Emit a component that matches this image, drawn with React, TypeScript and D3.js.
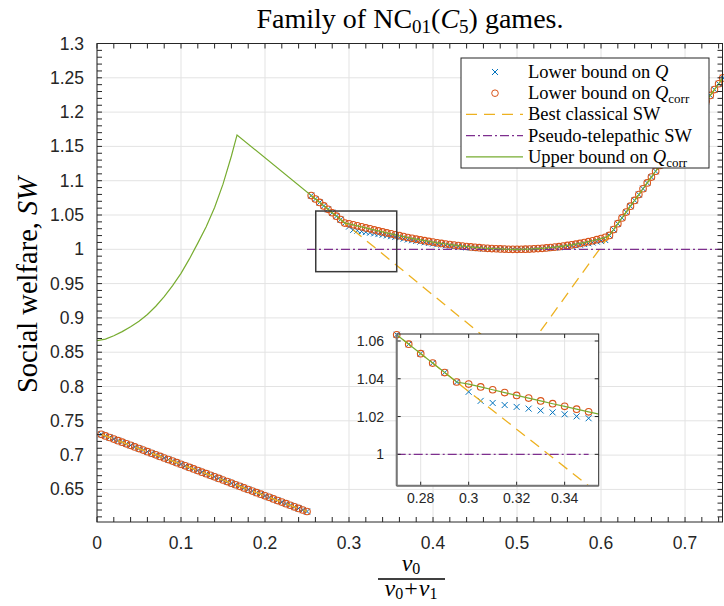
import React from "react";
import * as d3 from "d3";

// sampling of v0/(v0+v1)
const leftStart = 0.005;
const rightStart = 0.255;
const step = 0.005;

// lower bounds (Q and Q_corr equal) for v0/(v0+v1) = 0.005 .. 0.25
const leftLower = [
  0.7303, 0.728, 0.7257, 0.7234, 0.7211, 0.7188, 0.7165, 0.7142, 0.7119, 0.7096,
  0.7073, 0.705, 0.7027, 0.7004, 0.6981, 0.6958, 0.6935, 0.6913, 0.689, 0.6867,
  0.6844, 0.6821, 0.6798, 0.6775, 0.6752, 0.6729, 0.6706, 0.6683, 0.666, 0.6637,
  0.6614, 0.6591, 0.6568, 0.6545, 0.6522, 0.6499, 0.6476, 0.6453, 0.643, 0.6407,
  0.6384, 0.6361, 0.6338, 0.6315, 0.6292, 0.6269, 0.6246, 0.6223, 0.62, 0.6178,
];

// lower bound on Q_corr for v0/(v0+v1) = 0.255 .. 0.745
const rightQcorr = [
  1.0783, 1.0733, 1.0683, 1.0633, 1.0583, 1.0533, 1.0483, 1.0433, 1.0383, 1.0372,
  1.0357, 1.0342, 1.0327, 1.0312, 1.0298, 1.0283, 1.0268, 1.0254, 1.0239, 1.0225,
  1.0211, 1.0198, 1.0185, 1.0172, 1.016, 1.0148, 1.0137, 1.0126, 1.0115, 1.0105,
  1.0095, 1.0086, 1.0077, 1.0069, 1.0061, 1.0054, 1.0047, 1.0041, 1.0035, 1.0029,
  1.0024, 1.0019, 1.0015, 1.0011, 1.0008, 1.0005, 1.0003, 1.0001, 1.0, 1.0,
  1.0001, 1.0002, 1.0004, 1.0007, 1.0011, 1.0015, 1.002, 1.0026, 1.0032, 1.0039,
  1.0047, 1.0056, 1.0065, 1.0075, 1.0086, 1.0098, 1.0111, 1.0125, 1.014, 1.0156,
  1.0174, 1.0203, 1.0288, 1.0373, 1.0458, 1.0543, 1.0628, 1.0713, 1.0798, 1.0883,
  1.0968, 1.1053, 1.1138, 1.1223, 1.1308, 1.1393, 1.1478, 1.1563, 1.1648, 1.1733,
  1.1818, 1.1903, 1.1988, 1.2073, 1.2158, 1.2243, 1.2328, 1.2413, 1.2498,
];

// lower bound on Q, same grid
const rightQ = [
  1.0783, 1.0733, 1.0683, 1.0633, 1.0583, 1.0533, 1.0483, 1.0433, 1.0383, 1.0331,
  1.0283, 1.0272, 1.0261, 1.0251, 1.0242, 1.0232, 1.0222, 1.0212, 1.0201, 1.0191,
  1.0179, 1.0167, 1.0155, 1.0143, 1.0132, 1.0122, 1.0112, 1.0102, 1.0092, 1.0083,
  1.0074, 1.0066, 1.0058, 1.0051, 1.0044, 1.0039, 1.0033, 1.0028, 1.0023, 1.0018,
  1.0014, 1.001, 1.0007, 1.0005, 1.0003, 1.0001, 1.0, 1.0, 1.0, 1.0,
  1.0, 1.0001, 1.0003, 1.0005, 1.0008, 1.0011, 1.0015, 1.0019, 1.0024, 1.0029,
  1.0035, 1.0042, 1.0049, 1.0057, 1.0066, 1.0076, 1.0087, 1.0099, 1.0112, 1.012,
  1.0135, 1.0203, 1.0288, 1.0373, 1.0458, 1.0543, 1.0628, 1.0713, 1.0798, 1.0883,
  1.0968, 1.1053, 1.1138, 1.1223, 1.1308, 1.1393, 1.1478, 1.1563, 1.1648, 1.1733,
  1.1818, 1.1903, 1.1988, 1.2073, 1.2158, 1.2243, 1.2328, 1.2413, 1.2498,
];

// best classical SW, right part
const classicalX = [0.255, 0.5, 0.745];
const classicalY = [1.0783, 0.8333, 1.2498];

// pseudo-telepathic SW
const pseudoX = [0.25, 0.745];
const pseudoY = [1, 1];

// upper bound on Q_corr until it meets the Q_corr lower bound
const upperX = [0, 0.01, 0.02, 0.03, 0.04, 0.05, 0.06, 0.07, 0.08, 0.09, 0.1, 0.11, 0.12, 0.13, 0.14, 0.15, 0.16, 0.1667, 0.295];
const upperY = [0.867, 0.869, 0.874, 0.88, 0.887, 0.895, 0.905, 0.917, 0.931, 0.947, 0.965, 0.986, 1.009, 1.033, 1.061, 1.095, 1.136, 1.1667, 1.0383];

const xTicks = [0, 0.1, 0.2, 0.3, 0.4, 0.5, 0.6, 0.7];
const yTicks = [0.65, 0.7, 0.75, 0.8, 0.85, 0.9, 0.95, 1, 1.05, 1.1, 1.15, 1.2, 1.25, 1.3];
const insetXTicks = [0.28, 0.3, 0.32, 0.34];
const insetYTicks = [1, 1.02, 1.04, 1.06];
const zoomBox = { x0: 0.2604, x1: 0.3568, y0: 0.9674, y1: 1.0558 };

const C = { q: "#0072BD", qc: "#D95319", cl: "#EDB120", ps: "#7E2F8E", up: "#77AC30", ax: "#262626", grid: "#e3e3e3" };
const sans = "'Liberation Sans', Arial, sans-serif";
const serif = "'Liberation Serif', 'Times New Roman', serif";

const fmt = (v: number) => String(+v.toFixed(2));

function Cross({ cx, cy }: { cx: number; cy: number }) {
  const s = 3;
  return <path d={`M${cx - s},${cy - s}L${cx + s},${cy + s}M${cx - s},${cy + s}L${cx + s},${cy - s}`} stroke={C.q} strokeWidth={1} fill="none" />;
}

function Series({ sx, sy, clip, xmin, xmax }: any) {
  const leftX = leftLower.map((_, i) => leftStart + i * step);
  const rightX = rightQcorr.map((_, i) => rightStart + i * step);
  const q: [number, number][] = [...leftX.map((v, i) => [v, leftLower[i]] as [number, number]), ...rightX.map((v, i) => [v, rightQ[i]] as [number, number])];
  const qc: [number, number][] = [...leftX.map((v, i) => [v, leftLower[i]] as [number, number]), ...rightX.map((v, i) => [v, rightQcorr[i]] as [number, number])];
  const inRange = (p: [number, number]) => p[0] >= xmin - 1e-9 && p[0] <= xmax + 1e-9;
  const upper: [number, number][] = [
    ...upperX.map((v, i) => [v, upperY[i]] as [number, number]),
    ...rightX.map((v, i) => [v, rightQcorr[i]] as [number, number]).filter((p) => p[0] > 0.2951),
  ];
  const line = d3.line<[number, number]>().x((d) => sx(d[0])).y((d) => sy(d[1]));
  const classLeft = leftX.map((v, i) => [v, leftLower[i]] as [number, number]).filter(inRange);
  const classRight = classicalX.map((v, i) => [v, classicalY[i]] as [number, number]);
  const pseudo = pseudoX.map((v, i) => [i === 0 ? Math.max(v, xmin) : Math.min(v, xmax), pseudoY[i]] as [number, number]);
  return (
    <g>
      {q.filter(inRange).map((p, i) => <Cross key={"q" + i} cx={sx(p[0])} cy={sy(p[1])} />)}
      {qc.filter(inRange).map((p, i) => (
        <circle key={"c" + i} cx={sx(p[0])} cy={sy(p[1])} r={3.3} fill="none" stroke={C.qc} strokeWidth={1.1} />
      ))}
      <g clipPath={`url(#${clip})`} fill="none">
        {classLeft.length > 1 && <path d={line(classLeft) || ""} stroke={C.cl} strokeWidth={1.3} strokeDasharray="11,7" />}
        <path d={line(classRight) || ""} stroke={C.cl} strokeWidth={1.3} strokeDasharray="11,7" />
        <path d={line(pseudo) || ""} stroke={C.ps} strokeWidth={1.3} strokeDasharray="9,3,2,3" />
        <path d={line(upper) || ""} stroke={C.up} strokeWidth={1.2} />
      </g>
    </g>
  );
}

export default function App() {
  const W = 724, H = 606;
  const M = { left: 97, right: 722.5, top: 43.5, bottom: 522 };
  const IN = { left: 396.7, right: 598.7, top: 334, bottom: 485.7 };
  const x = d3.scaleLinear().domain([0, 0.7446]).range([M.left, M.right]);
  const y = d3.scaleLinear().domain([0.6025, 1.3]).range([M.bottom, M.top]);
  const ix = d3.scaleLinear().domain([0.27, 0.3542]).range([IN.left, IN.right]);
  const iy = d3.scaleLinear().domain([0.9834, 1.0637]).range([IN.bottom, IN.top]);

  const xMinor = d3.range(0, 0.7446, 0.02);
  const yMinor = d3.range(0.61, 1.3001, 0.01);
  const tk = 5;

  const legendRows = [
    { key: "q", label: <>Lower bound on <tspan fontStyle="italic">Q</tspan></> },
    { key: "qc", label: <>Lower bound on <tspan fontStyle="italic">Q</tspan><tspan fontSize={13} dy={4}>corr</tspan></> },
    { key: "cl", label: <>Best classical SW</> },
    { key: "ps", label: <>Pseudo-telepathic SW</> },
    { key: "up", label: <>Upper bound on <tspan fontStyle="italic">Q</tspan><tspan fontSize={13} dy={4}>corr</tspan></> },
  ];
  const lg = { x0: 461, y0: 58, x1: 709, y1: 168, row0: 72, dy: 21.2 };

  return (
    <div style={{ position: "absolute", left: 0, top: 0 }}>
      <svg width={W} height={H} style={{ display: "block", background: "#fff" }}>
        <defs>
          <clipPath id="mainClip"><rect x={M.left} y={M.top} width={M.right - M.left} height={M.bottom - M.top} /></clipPath>
          <clipPath id="insetClip"><rect x={IN.left} y={IN.top} width={IN.right - IN.left} height={IN.bottom - IN.top} /></clipPath>
        </defs>

        {/* grid */}
        <g stroke={C.grid} strokeWidth={1}>
          {xTicks.map((t) => <line key={"gx" + t} x1={x(t)} x2={x(t)} y1={M.top} y2={M.bottom} />)}
          {yTicks.map((t) => <line key={"gy" + t} x1={M.left} x2={M.right} y1={y(t)} y2={y(t)} />)}
        </g>

        <Series sx={x} sy={y} clip="mainClip" xmin={0} xmax={0.75} />

        {/* zoom rectangle */}
        <rect x={x(zoomBox.x0)} y={y(zoomBox.y1)} width={x(zoomBox.x1) - x(zoomBox.x0)} height={y(zoomBox.y0) - y(zoomBox.y1)} fill="none" stroke="#3a3a3a" strokeWidth={1.5} />

        {/* axes box and ticks */}
        <g stroke={C.ax} strokeWidth={1}>
          <rect x={M.left} y={M.top} width={M.right - M.left} height={M.bottom - M.top} fill="none" />
          {xMinor.map((t) => (
            <g key={"tx" + t}>
              <line x1={x(t)} x2={x(t)} y1={M.bottom} y2={M.bottom - tk} />
              <line x1={x(t)} x2={x(t)} y1={M.top} y2={M.top + tk} />
            </g>
          ))}
          {yMinor.map((t) => (
            <g key={"ty" + t}>
              <line x1={M.left} x2={M.left + tk} y1={y(t)} y2={y(t)} />
              <line x1={M.right} x2={M.right - tk} y1={y(t)} y2={y(t)} />
            </g>
          ))}
        </g>
        <g fontFamily={sans} fontSize={17.5} fill={C.ax}>
          {xTicks.map((t) => <text key={"lx" + t} x={x(t)} y={549} textAnchor="middle">{fmt(t)}</text>)}
          {yTicks.map((t) => <text key={"ly" + t} x={84} y={y(t) + 6} textAnchor="end">{fmt(t)}</text>)}
        </g>

        {/* inset */}
        <rect x={IN.left} y={IN.top} width={IN.right - IN.left} height={IN.bottom - IN.top} fill="#fff" />
        <g stroke={C.grid} strokeWidth={1}>
          {insetXTicks.map((t) => <line key={"igx" + t} x1={ix(t)} x2={ix(t)} y1={IN.top} y2={IN.bottom} />)}
          {insetYTicks.map((t) => <line key={"igy" + t} x1={IN.left} x2={IN.right} y1={iy(t)} y2={iy(t)} />)}
        </g>
        <Series sx={ix} sy={iy} clip="insetClip" xmin={0.27} xmax={0.35} />
        <g stroke={C.ax} strokeWidth={1}>
          <rect x={IN.left} y={IN.top} width={IN.right - IN.left} height={IN.bottom - IN.top} fill="none" />
          {insetXTicks.map((t) => (
            <g key={"itx" + t}>
              <line x1={ix(t)} x2={ix(t)} y1={IN.bottom} y2={IN.bottom - 4} />
              <line x1={ix(t)} x2={ix(t)} y1={IN.top} y2={IN.top + 4} />
            </g>
          ))}
          {insetYTicks.map((t) => (
            <g key={"ity" + t}>
              <line x1={IN.left} x2={IN.left + 4} y1={iy(t)} y2={iy(t)} />
              <line x1={IN.right} x2={IN.right - 4} y1={iy(t)} y2={iy(t)} />
            </g>
          ))}
        </g>
        <line x1={IN.left} x2={IN.left} y1={IN.top} y2={IN.bottom} stroke="#777" strokeWidth={2} />
        <line x1={IN.left} x2={IN.right} y1={IN.bottom} y2={IN.bottom} stroke="#777" strokeWidth={2} />
        <g fontFamily={sans} fontSize={14} fill={C.ax}>
          {insetXTicks.map((t) => <text key={"ilx" + t} x={ix(t)} y={503} textAnchor="middle">{fmt(t)}</text>)}
          {insetYTicks.map((t) => <text key={"ily" + t} x={384} y={iy(t) + 5} textAnchor="end">{fmt(t)}</text>)}
        </g>

        {/* legend */}
        <rect x={lg.x0} y={lg.y0} width={lg.x1 - lg.x0} height={lg.y1 - lg.y0} fill="#fff" stroke={C.ax} strokeWidth={1} />
        {legendRows.map((r, i) => {
          const yy = lg.row0 + i * lg.dy;
          return (
            <g key={r.key}>
              {r.key === "q" && <Cross cx={495} cy={yy} />}
              {r.key === "qc" && <circle cx={495} cy={yy} r={3.3} fill="none" stroke={C.qc} />}
              {r.key === "cl" && <line x1={466} x2={523} y1={yy} y2={yy} stroke={C.cl} strokeWidth={1.3} strokeDasharray="11,7" />}
              {r.key === "ps" && <line x1={466} x2={523} y1={yy} y2={yy} stroke={C.ps} strokeWidth={1.3} strokeDasharray="9,3,2,3" />}
              {r.key === "up" && <line x1={466} x2={523} y1={yy} y2={yy} stroke={C.up} strokeWidth={1.3} />}
              <text x={528} y={yy + 6} fontFamily={serif} fontSize={18.5} fill="#000">{r.label}</text>
            </g>
          );
        })}

        {/* title */}
        <text x={410} y={28} textAnchor="middle" fontFamily={serif} fontSize={28} fill="#000">
          Family of NC<tspan fontSize={19} dy={5}>01</tspan><tspan dy={-5}>(</tspan><tspan fontStyle="italic">C</tspan><tspan fontSize={19} dy={5}>5</tspan><tspan dy={-5}>) games.</tspan>
        </text>

        {/* y label */}
        <text transform="translate(37,285) rotate(-90)" textAnchor="middle" fontFamily={serif} fontSize={28.5} fill="#000">
          Social welfare, <tspan fontStyle="italic">SW</tspan>
        </text>

        {/* x label */}
        <g fontFamily={serif} fontSize={24} fill="#000" textAnchor="middle">
          <text x={411} y={571}><tspan fontStyle="italic">v</tspan><tspan fontSize={16} dy={3}>0</tspan></text>
          <line x1={378} x2={445} y1={579} y2={579} stroke="#000" strokeWidth={1.4} />
          <text x={411} y={596}><tspan fontStyle="italic">v</tspan><tspan fontSize={16} dy={3}>0</tspan><tspan dy={-3} dx={1}>+</tspan><tspan fontStyle="italic" dx={1}>v</tspan><tspan fontSize={16} dy={3}>1</tspan></text>
        </g>
      </svg>
    </div>
  );
}
